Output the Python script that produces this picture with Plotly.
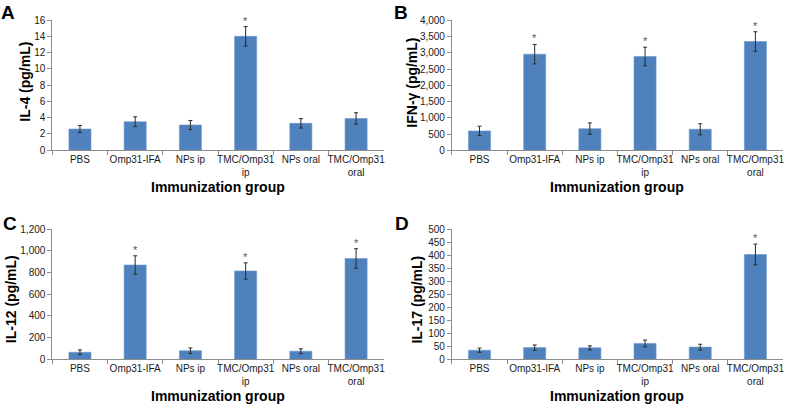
import plotly.graph_objects as go

W, H = 786, 409

groups = ["PBS", "Omp31-IFA", "NPs ip", "TMC/Omp31<br>ip", "NPs oral", "TMC/Omp31<br>oral"]

il4 = [2.6, 3.5, 3.1, 14.0, 3.3, 3.9]
il4_err = [0.44, 0.6, 0.55, 1.2, 0.58, 0.7]
il4_sig = [False, False, False, True, False, False]

ifng = [600, 2960, 670, 2890, 650, 3350]
ifng_err = [145, 300, 175, 285, 170, 300]
ifng_sig = [False, True, False, True, False, True]

il12 = [65, 870, 80, 815, 75, 930]
il12_err = [22, 85, 25, 75, 22, 90]
il12_sig = [False, True, False, True, False, True]

il17 = [35, 45, 44, 61, 47, 403]
il17_err = [8, 10, 8, 13, 11, 40]
il17_sig = [False, False, False, False, False, True]

panels = [
    # letter, ytitle, values, err, sig, ymax, dtick, x0px, x1px, ytop_px, ybot_px, ytitle_x, ytitle_y
    ("A", "IL-4 (pg/mL)", il4, il4_err, il4_sig, 16, 2, 52.4, 384.2, 14.5, 148.5, 25, 78),
    ("B", "IFN-γ (pg/mL)", ifng, ifng_err, ifng_sig, 4000, 500, 452.5, 784.0, 14.8, 148.8, 413, 78.5),
    ("C", "IL-12 (pg/mL)", il12, il12_err, il12_sig, 1200, 200, 52.4, 384.2, 230.0, 364.0, 11, 302),
    ("D", "IL-17 (pg/mL)", il17, il17_err, il17_sig, 500, 50, 452.5, 784.0, 230.0, 364.0, 418, 302),
]
letter_pos = {"A": (-1, 7), "B": (392, 7), "C": (1, 224), "D": (394, 224)}

BAR = "#4F81BD"
AXC = "#8C8C8C"
FONT = "Liberation Sans, Arial, sans-serif"
TXT = "#1a1a1a"

fig = go.Figure()
annotations = []
layout = {}

for i, (letter, ytitle, vals, errs, sig, ymax, dtick, x0, x1, yt, yb, tx, ty) in enumerate(panels):
    n = "" if i == 0 else str(i + 1)
    xa, ya = "x" + n, "y" + n
    fig.add_trace(go.Bar(
        x=groups, y=vals, xaxis=xa, yaxis=ya,
        marker=dict(color=BAR, line=dict(color="#6F97CC", width=0.6)),
        error_y=dict(type="data", array=errs, visible=True, color="#2a2a2a", thickness=1, width=2),
        showlegend=False, hoverinfo="x+y",
    ))
    layout["xaxis" + n] = dict(
        domain=[x0 / W, x1 / W], anchor=ya, type="category",
        showline=True, linecolor=AXC, linewidth=1,
        ticks="outside", tickson="boundaries", ticklen=4, tickcolor=AXC,
        tickangle=0,
        tickfont=dict(family=FONT, size=10, color=TXT),
        showgrid=False, zeroline=False, fixedrange=True,
    )
    layout["yaxis" + n] = dict(
        domain=[1 - yb / H, 1 - yt / H], anchor=xa, range=[0, ymax],
        dtick=dtick, tick0=0, tickformat=",",
        showline=True, linecolor=AXC, linewidth=1,
        ticks="outside", ticklen=4, tickcolor=AXC,
        tickfont=dict(family=FONT, size=10, color=TXT),
        showgrid=False, zeroline=False, fixedrange=True,
    )
    # significance asterisks
    for g, v, e, s in zip(groups, vals, errs, sig):
        if s:
            annotations.append(dict(
                x=g, y=v + e, xref=xa, yref=ya, text="*", showarrow=False,
                yanchor="bottom", yshift=-2,
                font=dict(family=FONT, size=11, color="#555555"),
            ))
    # y title
    annotations.append(dict(
        x=tx / W, y=1 - ty / H, xref="paper", yref="paper", text="<b>%s</b>" % ytitle,
        textangle=-90, showarrow=False, xanchor="center", yanchor="middle",
        font=dict(family=FONT, size=14, color="#000000"),
    ))
    # x title
    annotations.append(dict(
        x=(x0 + x1) / 2 / W, y=1 - (yb + 38) / H, xref="paper", yref="paper",
        text="<b>Immunization group</b>", showarrow=False,
        xanchor="center", yanchor="middle",
        font=dict(family=FONT, size=14, color="#000000"),
    ))
    lx, ly = letter_pos[letter]
    annotations.append(dict(
        x=lx / W, y=1 - ly / H, xref="paper", yref="paper", text="<b>%s</b>" % letter,
        showarrow=False, xanchor="left", yanchor="middle",
        font=dict(family=FONT, size=19, color="#000000"),
    ))

fig.update_layout(
    width=W, height=H, margin=dict(l=0, r=0, t=0, b=0),
    paper_bgcolor="white", plot_bgcolor="white",
    bargap=0.6, annotations=annotations,
    font=dict(family=FONT),
    **layout,
)

fig.write_html(
    "out.html",
    config={"displayModeBar": False},
    post_script="document.body.style.margin='0px';document.body.style.padding='0px';document.body.style.overflow='hidden';",
)
